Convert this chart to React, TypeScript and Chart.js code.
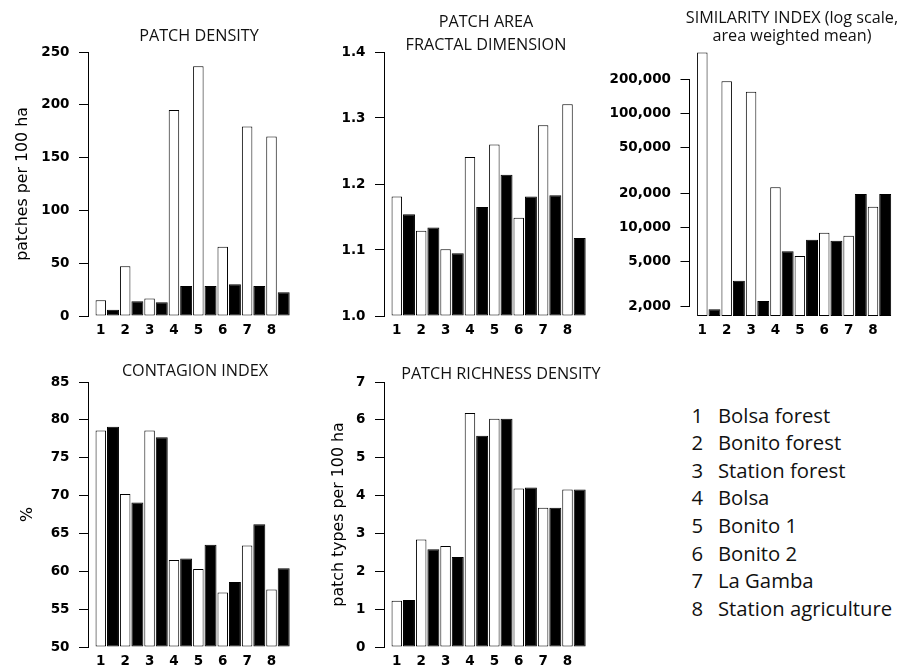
import React, { useEffect, useRef } from "react";
import { Chart, registerables } from "chart.js";

Chart.register(...registerables);

// ---------- data ----------
const siteNumbers = ["1", "2", "3", "4", "5", "6", "7", "8"];
const siteNames = [
  "Bolsa forest",
  "Bonito forest",
  "Station forest",
  "Bolsa",
  "Bonito 1",
  "Bonito 2",
  "La Gamba",
  "Station agriculture",
];

const patchDensityWhite = [15, 47, 16.5, 195, 236.5, 65.5, 179.5, 170];
const patchDensityBlack = [6, 14, 13, 28.5, 28.5, 30, 28.5, 22.5];
const patchDensityTicks = [0, 50, 100, 150, 200, 250];

const fractalWhite = [1.181, 1.129, 1.101, 1.241, 1.26, 1.149, 1.289, 1.321];
const fractalBlack = [1.154, 1.134, 1.095, 1.165, 1.214, 1.181, 1.183, 1.118];
const fractalTicks = [1.0, 1.1, 1.2, 1.3, 1.4];

const similarityWhite = [347000, 193000, 156000, 22500, 5600, 8950, 8450, 15200];
const similarityBlack = [1900, 3380, 2240, 6150, 7780, 7620, 19700, 19700];
const similarityTicks = [2000, 5000, 10000, 20000, 50000, 100000, 200000];
const similarityRange = [1656, 350000];

const contagionWhite = [78.6, 70.2, 78.6, 61.5, 60.3, 57.2, 63.4, 57.6];
const contagionBlack = [79.1, 69.1, 77.7, 61.7, 63.5, 58.6, 66.2, 60.4];
const contagionTicks = [50, 55, 60, 65, 70, 75, 80, 85];

const richnessWhite = [1.22, 2.84, 2.67, 6.18, 6.03, 4.19, 3.68, 4.16];
const richnessBlack = [1.24, 2.58, 2.38, 5.58, 6.03, 4.21, 3.68, 4.16];
const richnessTicks = [0, 1, 2, 3, 4, 5, 6, 7];

// ---------- R barplot-like slot layout (bar width 1, space 0.2) ----------
const SPACE = 0.2;
const nBars = siteNumbers.length * 2;
const slotCenter = (k: number) => SPACE + 0.5 + (1 + SPACE) * k;
const span = nBars * (1 + SPACE) - SPACE;
const xMin = SPACE - 0.04 * span;
const xMax = SPACE + span + 0.04 * span;
const whiteX = siteNumbers.map((_, i) => slotCenter(2 * i));
const blackX = siteNumbers.map((_, i) => slotCenter(2 * i + 1));

const RFONT = "DejaVu Sans";
const TITLEFONT = "'Open Sans', 'Noto Sans', sans-serif";

// draws the y axis line only between first and last tick (as R does)
const rAxisLine = {
  id: "rAxisLine",
  afterDatasetsDraw(chart: any) {
    const s = chart.scales.y;
    const t = s.ticks;
    if (!t || !t.length) return;
    const ctx = chart.ctx;
    const y1 = s.getPixelForValue(t[0].value);
    const y2 = s.getPixelForValue(t[t.length - 1].value);
    const x = Math.round(s.right - 0.5) + 0.5;
    ctx.save();
    ctx.strokeStyle = "#000";
    ctx.lineWidth = 1;
    ctx.beginPath();
    ctx.moveTo(x, Math.round(y1 - 0.5) + 1);
    ctx.lineTo(x, Math.round(y2 - 0.5));
    ctx.stroke();
    ctx.restore();
  },
};

type PanelProps = {
  left: number;
  top: number;
  width: number;
  height: number;
  padTop: number;
  padRight: number;
  yWidth: number;
  xHeight: number;
  white: number[];
  black: number[];
  ticks: number[];
  log?: boolean;
  range?: number[];
  fmt?: (v: number) => string;
  yTitle?: string;
  yTitlePad?: number;
};

function BarPanel(p: PanelProps) {
  const ref = useRef<HTMLCanvasElement>(null);
  useEffect(() => {
    const yMin = p.range ? p.range[0] : p.ticks[0];
    const yMax = p.range ? p.range[1] : p.ticks[p.ticks.length - 1];
    const tickFont = { family: RFONT, size: 13.5, weight: "bold" as const };
    const chart = new Chart(ref.current as HTMLCanvasElement, {
      type: "bar",
      data: {
        datasets: [
          {
            data: whiteX.map((x, i) => ({ x, y: p.white[i] })),
            backgroundColor: "#ffffff",
            borderColor: "#000000",
            borderWidth: 1,
            borderSkipped: false,
            grouped: false,
            barPercentage: 0.86,
            categoryPercentage: 1,
            base: yMin,
          } as any,
          {
            data: blackX.map((x, i) => ({ x, y: p.black[i] })),
            backgroundColor: "#000000",
            borderColor: "#000000",
            borderWidth: 1,
            borderSkipped: false,
            grouped: false,
            barPercentage: 0.98,
            categoryPercentage: 1,
            base: yMin,
          } as any,
        ],
      },
      options: {
        responsive: false,
        maintainAspectRatio: false,
        animation: false,
        events: [],
        layout: { padding: { top: p.padTop, right: p.padRight, bottom: 0, left: 0 } },
        plugins: { legend: { display: false }, tooltip: { enabled: false }, title: { display: false } },
        scales: {
          x: {
            type: "linear",
            min: xMin,
            max: xMax,
            offset: false,
            grid: { display: false, drawTicks: false },
            border: { display: false },
            ticks: {
              autoSkip: false,
              maxRotation: 0,
              minRotation: 0,
              padding: 6,
              color: "#000",
              font: tickFont,
              callback: (_v: any, i: number) => siteNumbers[i],
            },
            afterBuildTicks: (s: any) => {
              s.ticks = whiteX.map((v) => ({ value: v }));
            },
            afterFit: (s: any) => {
              s.height = p.xHeight;
            },
          } as any,
          y: {
            type: p.log ? "logarithmic" : "linear",
            min: yMin,
            max: yMax,
            grid: {
              display: true,
              drawOnChartArea: false,
              drawTicks: true,
              tickLength: 9,
              color: "#000",
              lineWidth: 1,
            },
            border: { display: false },
            ticks: {
              padding: 9.5,
              color: "#000",
              font: tickFont,
              autoSkip: false,
              callback: (v: any) => (p.fmt ? p.fmt(Number(v)) : String(v)),
            },
            afterBuildTicks: (s: any) => {
              s.ticks = p.ticks.map((v) => ({ value: v }));
            },
            afterFit: (s: any) => {
              s.width = p.yWidth;
            },
            title: {
              display: !!p.yTitle,
              text: p.yTitle || "",
              color: "#000",
              font: { family: RFONT, size: 15.8 },
              padding: { top: p.yTitlePad || 0, bottom: 0 },
            },
          } as any,
        },
      },
      plugins: [rAxisLine],
    });
    return () => chart.destroy();
  }, []);
  return (
    <canvas
      ref={ref}
      width={p.width}
      height={p.height}
      style={{ position: "absolute", left: p.left, top: p.top, width: p.width, height: p.height }}
    />
  );
}

function Title({ cx, top, text }: { cx: number; top: number; text: string }) {
  return (
    <div
      style={{
        position: "absolute",
        left: cx - 160,
        top,
        width: 320,
        textAlign: "center",
        fontFamily: TITLEFONT,
        fontSize: 16.2,
        lineHeight: "20px",
        color: "#111",
        whiteSpace: "nowrap",
      }}
    >
      {text}
    </div>
  );
}

export default function App() {
  return (
    <div
      style={{
        position: "absolute",
        left: 0,
        top: 0,
        width: 917,
        height: 670,
        background: "#fff",
        overflow: "hidden",
      }}
    >
      <BarPanel
        left={0} top={0} width={305} height={345}
        padTop={52} padRight={8.5} yWidth={88} xHeight={29}
        white={patchDensityWhite} black={patchDensityBlack} ticks={patchDensityTicks}
        yTitle="patches per 100 ha" yTitlePad={13.6}
      />
      <BarPanel
        left={305} top={0} width={300} height={345}
        padTop={52} padRight={12.5} yWidth={79} xHeight={29}
        white={fractalWhite} black={fractalBlack} ticks={fractalTicks}
        fmt={(v) => v.toFixed(1)}
      />
      <BarPanel
        left={605} top={0} width={312} height={345}
        padTop={52} padRight={19} yWidth={84.5} xHeight={29}
        white={similarityWhite} black={similarityBlack} ticks={similarityTicks}
        log range={similarityRange}
        fmt={(v) => v.toLocaleString("en-US")}
      />
      <BarPanel
        left={0} top={340} width={305} height={330}
        padTop={42} padRight={8.5} yWidth={88} xHeight={23}
        white={contagionWhite} black={contagionBlack} ticks={contagionTicks}
        yTitle="%" yTitlePad={18}
      />
      <BarPanel
        left={305} top={340} width={300} height={330}
        padTop={42} padRight={12.5} yWidth={79} xHeight={23}
        white={richnessWhite} black={richnessBlack} ticks={richnessTicks}
        yTitle="patch types per 100 ha" yTitlePad={24.6}
      />

      <Title cx={199} top={24.5} text="PATCH DENSITY" />
      <Title cx={486} top={11.2} text="PATCH AREA" />
      <Title cx={486} top={33.5} text="FRACTAL DIMENSION" />
      <Title cx={792} top={6.5} text="SIMILARITY INDEX (log scale," />
      <Title cx={792} top={25.4} text="area weighted mean)" />
      <Title cx={195} top={360.3} text="CONTAGION INDEX" />
      <Title cx={500.8} top={362.5} text="PATCH RICHNESS DENSITY" />

      <div
        style={{
          position: "absolute",
          left: 691.5,
          top: 401.5,
          fontFamily: TITLEFONT,
          fontSize: 20.3,
          lineHeight: "27.66px",
          color: "#111",
          whiteSpace: "nowrap",
        }}
      >
        {siteNames.map((name, i) => (
          <div key={name} style={{ display: "flex" }}>
            <span style={{ display: "inline-block", width: 26.5 }}>{siteNumbers[i]}</span>
            <span>{name}</span>
          </div>
        ))}
      </div>
    </div>
  );
}
